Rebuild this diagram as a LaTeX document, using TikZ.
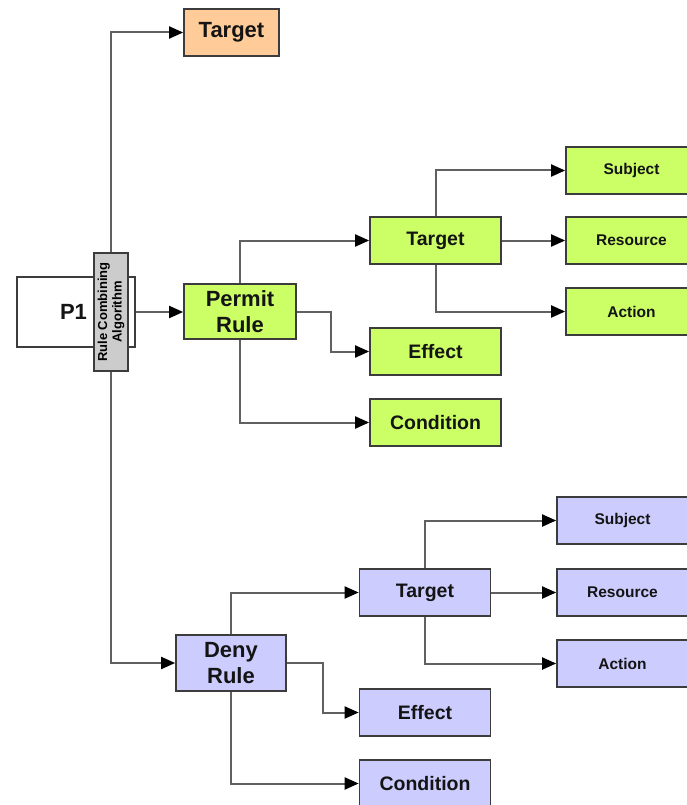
\documentclass[tikz,border=0pt]{standalone}
\usepackage{fontspec}
\setmainfont{Liberation Sans}
\usetikzlibrary{arrows.meta}

\definecolor{rulegreen}{HTML}{CCFF66}
\definecolor{rulelilac}{HTML}{CCCCFF}
\definecolor{policyorange}{HTML}{FFCC99}
\definecolor{alggray}{HTML}{CCCCCC}
\definecolor{edgegray}{HTML}{3C3C3C}
\definecolor{linegray}{HTML}{606060}

\tikzset{
  box/.style={draw=edgegray, line width=1.7pt, inner sep=0pt, align=center,
              font=\bfseries\fontsize{19.5}{22}\selectfont, text=black!92},
  big/.style={font=\bfseries\fontsize{22}{26}\selectfont},
  small/.style={font=\bfseries\fontsize{15.5}{18}\selectfont},
  leaf/.style={box, minimum width=131pt, minimum height=47pt},
  green/.style={fill=rulegreen},
  lilac/.style={fill=rulelilac},
  conn/.style={draw=linegray, line width=2pt,
               -{Triangle[length=14pt,width=12pt,color=black,fill=black]}},
}

\begin{document}
\begin{tikzpicture}[x=1pt,y=-1pt]
\useasboundingbox (0,0) rectangle (687,805);
\clip (0,0) rectangle (687,805);

% policy and its combining algorithm
\node[box, big, fill=white, minimum width=118pt, minimum height=70pt, text width=110pt]
  (p1) at (76,312) {P1\hspace*{5pt}};
\node[box, fill=alggray, minimum width=34pt, minimum height=118pt] (alg) at (111,312) {};
\node[rotate=90, align=center, inner sep=0pt,
      font=\bfseries\fontsize{13}{14.5}\selectfont] (alglabel) at (alg.center)
  {Rule Combining\\Algorithm};

% policy target
\node[box, big, fill=policyorange, minimum width=95pt, minimum height=47pt] (tgt0) at (231.5,32.5) {Target};

% permit rule
\node[box, big, green, minimum width=112pt, minimum height=55pt] (permit) at (240,311.5) {Permit\\Rule};
\node[leaf, green] (ptgt)  at (435.5,240.5) {Target};
\node[leaf, green] (peff)  at (435.5,351.5) {Effect};
\node[leaf, green] (pcond) at (435.5,422.5) {Condition};
\node[leaf, green, small] (psub) at (631.5,170.5) {Subject};
\node[leaf, green, small] (pres) at (631.5,240.5) {Resource};
\node[leaf, green, small] (pact) at (631.5,311.5) {Action};

% deny rule
\node[box, big, lilac, minimum width=110pt, minimum height=56pt] (deny) at (231,663) {Deny\\Rule};
\node[leaf, lilac] (dtgt)  at (425,592.5) {Target};
\node[leaf, lilac] (deff)  at (425,712.5) {Effect};
\node[leaf, lilac] (dcond) at (425,783.5) {Condition};
\node[leaf, lilac, small] (dsub) at (622.5,520.5) {Subject};
\node[leaf, lilac, small] (dres) at (622.5,592.5) {Resource};
\node[leaf, lilac, small] (dact) at (622.5,663.5) {Action};

% connectors from the policy
\draw[conn] (alg.north) |- (tgt0.west);
\draw[conn] (alg.south) |- (deny.west);
\draw[conn] (p1.east) -- (p1.east -| permit.west);

% permit rule children
\draw[conn] (permit.north) |- (ptgt.west);
\draw[conn] (permit.east) -- ++(34,0) |- (peff.west);
\draw[conn] (permit.south) |- (pcond.west);
\draw[conn] (ptgt.north) |- (psub.west);
\draw[conn] (ptgt.east) -- (pres.west);
\draw[conn] (ptgt.south) |- (pact.west);

% deny rule children
\draw[conn] (deny.north) |- (dtgt.west);
\draw[conn] (deny.east) -- ++(36,0) |- (deff.west);
\draw[conn] (deny.south) |- (dcond.west);
\draw[conn] (dtgt.north) |- (dsub.west);
\draw[conn] (dtgt.east) -- (dres.west);
\draw[conn] (dtgt.south) |- (dact.west);
\end{tikzpicture}
\end{document}
